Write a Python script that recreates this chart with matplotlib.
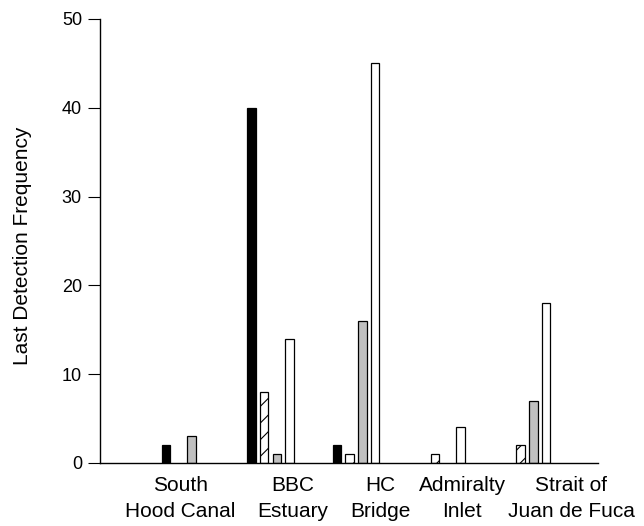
import matplotlib
matplotlib.use("Agg")
import matplotlib.pyplot as plt
import numpy as np

plt.rcParams['font.family'] = ['Liberation Sans', 'DejaVu Sans']
plt.rcParams['hatch.linewidth'] = 0.8

categories = ["South\nHood Canal", "BBC\nEstuary", "HC\nBridge", "Admiralty\nInlet", "Strait of\nJuan de Fuca"]
series_black = [2, 40, 2, 0, 0]
series_hatched = [0, 8, 1, 1, 2]
series_gray = [3, 1, 16, 0, 7]
series_white = [0, 14, 45, 4, 18]
label_positions = [-0.058, 1.263, 2.281, 3.24, 4.515]
yticks = [0, 10, 20, 30, 40, 50]

fig = plt.figure(figsize=(6.44, 5.26), dpi=100)
ax = fig.add_axes([0.1553, 0.1198, 0.9286 - 0.1553, 0.9639 - 0.1198])

x = np.arange(len(categories))
step = 0.1485
width = 0.1
styles = [
    (series_black, dict(color='black', edgecolor='black')),
    (series_hatched, dict(color='white', edgecolor='black', hatch='//')),
    (series_gray, dict(color='#c0c0c0', edgecolor='black')),
    (series_white, dict(color='white', edgecolor='black')),
]
for i, (vals, st) in enumerate(styles):
    offs = (i - 1.5) * step
    v = np.array(vals, dtype=float)
    v[v == 0] = np.nan
    ax.bar(x + offs, v, width=width, linewidth=0.9, **st)

ax.set_xlim(-0.994, 4.830)
ax.set_ylim(0, 50)
ax.set_yticks(yticks)
ax.tick_params(axis='y', direction='out', length=9, labelsize=13, pad=4)
ax.set_xticks([])
for s in ['top', 'right']:
    ax.spines[s].set_visible(False)
ax.spines['left'].set_linewidth(1.0)
ax.spines['bottom'].set_linewidth(1.0)
ax.set_ylabel("Last Detection Frequency", fontsize=15)
ax.yaxis.set_label_coords(-0.137, 0.49)

for pos, lab in zip(label_positions, categories):
    ax.text(pos, -0.03, lab, transform=ax.get_xaxis_transform(), ha='center', va='top',
            fontsize=15, linespacing=1.47)

fig.savefig("out.png", dpi=100)
